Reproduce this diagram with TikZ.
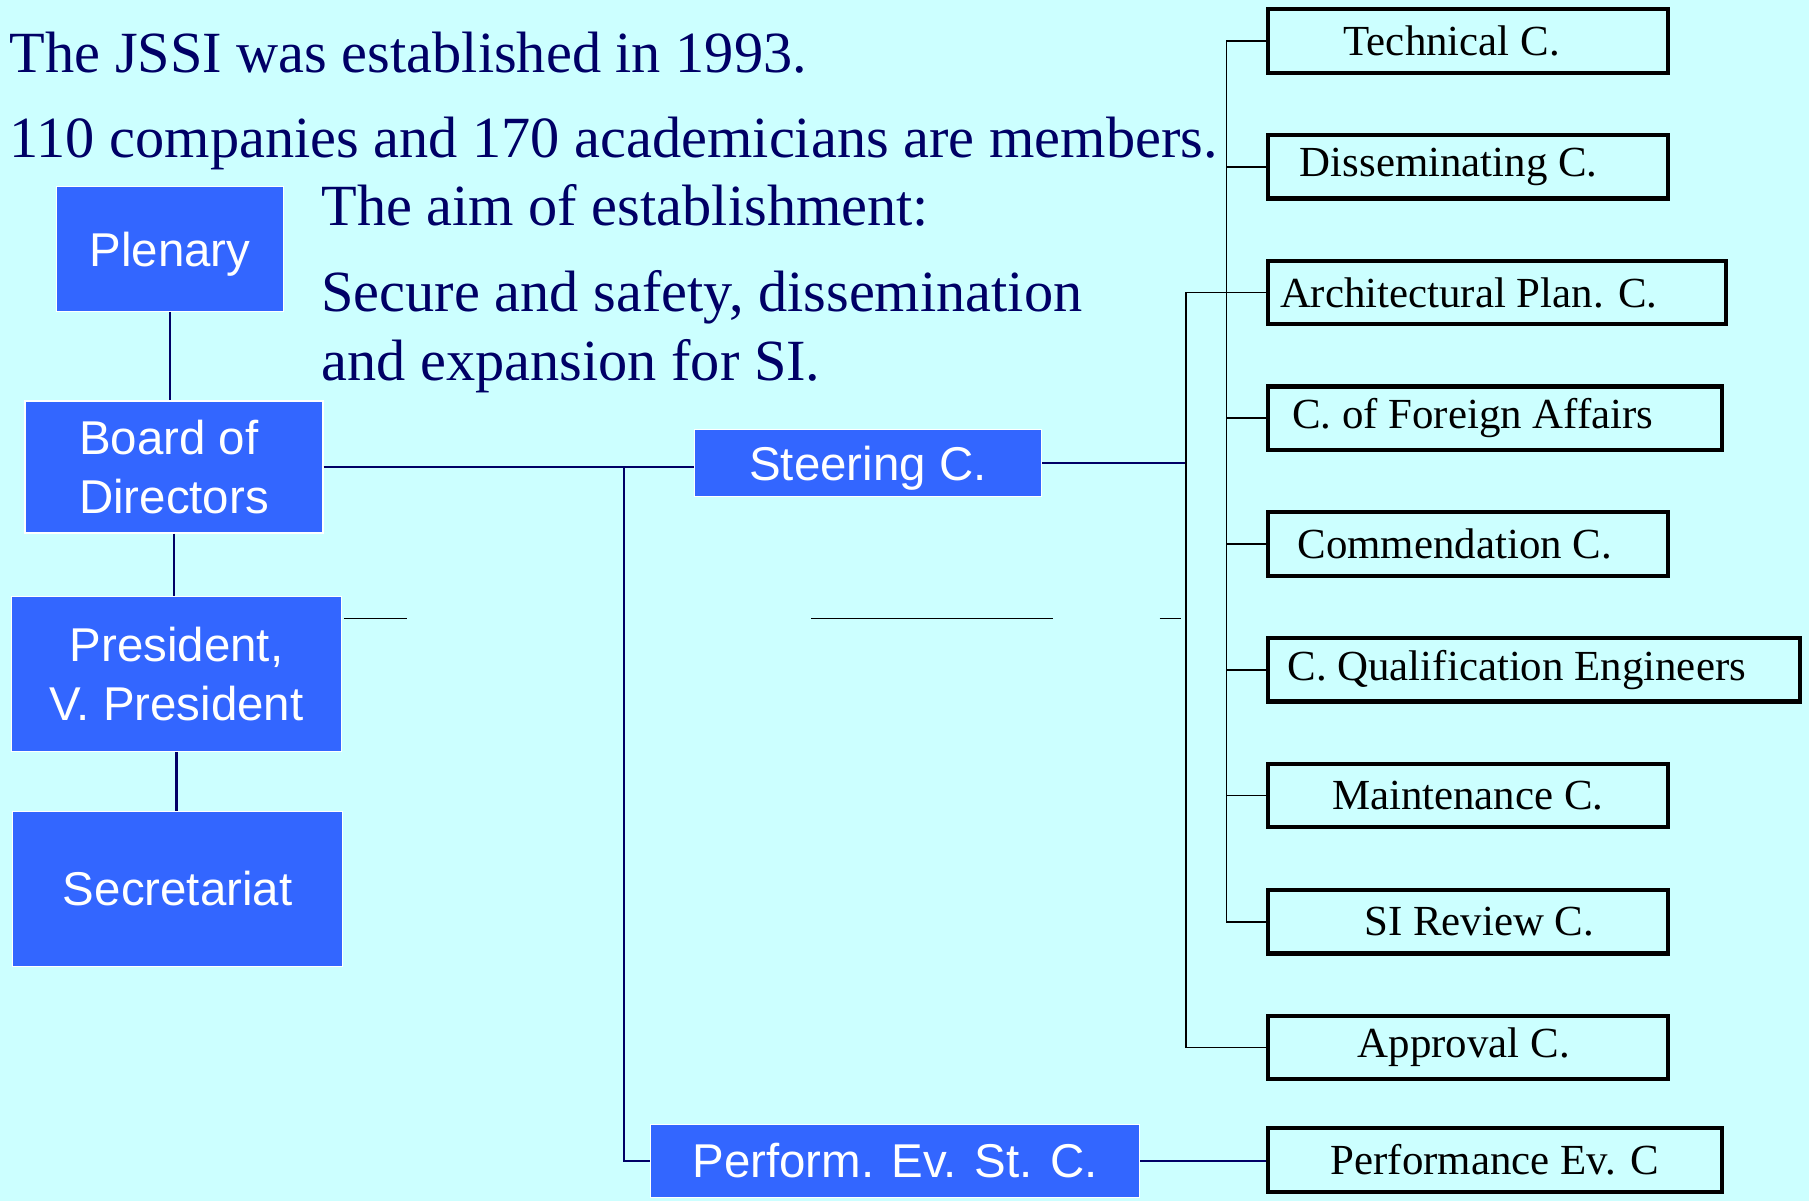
\documentclass[tikz,border=0pt]{standalone}
\usepackage{fontspec}
\setmainfont{Liberation Serif}
\setsansfont{Liberation Sans}
\definecolor{bgcyan}{HTML}{CCFFFF}
\definecolor{boxblue}{HTML}{3366FF}
\definecolor{navy}{HTML}{000066}

\begin{document}
\begin{tikzpicture}[x=0.1mm, y=-0.1mm,
    blue node/.style={fill=boxblue, draw=white, line width=0.4pt, text=white, inner sep=0pt,
      font=\sffamily\fontsize{13.5}{16.8}\selectfont},
    comm node/.style={draw=black, line width=1.2pt, anchor=west, minimum height=6.35mm, inner sep=0pt,
      font=\fontsize{12.2}{14}\selectfont},
    nudge/.style={execute at begin node={\hspace*{#1}}},
    text node/.style={anchor=base west, text=navy, inner sep=0pt, font=\fontsize{16.6}{20}\selectfont},
    navy line/.style={draw=navy, line width=0.7pt},
    thin line/.style={draw=black, line width=0.5pt},
    ]
  \def\CL{1265.6}

  \fill[bgcyan] (0,0) rectangle (1809,1201);
  \useasboundingbox (0,0) rectangle (1809,1201);

  \node[text node] (l1) at (9,72.7) {The JSSI was established in 1993.};
  \node[text node] (l2) at (9,158) {110 companies and 170 academicians are members.};
  \node[text node] (l3) at (320.7,226) {The aim of establishment:};
  \node[text node] (l4) at (320.7,311.5) {Secure and safety, dissemination};
  \node[text node] (l5) at (320.7,380.7) {and expansion for SI.};

  % left column and steering boxes
  \node[blue node, minimum width=22.7mm, minimum height=12.5mm, text depth=0pt] (plen) at (170,249) {Plenary};
  \node[blue node, minimum width=29.8mm, minimum height=13.2mm, align=left] (board) at (174,467) {Board of\\Directors};
  \node[blue node, minimum width=33mm, minimum height=15.5mm, align=center] (pres) at (176.5,674) {President,\\V. President};
  \node[blue node, minimum width=33mm, minimum height=15.5mm] (secr) at (177.7,889) {Secretariat};
  \node[blue node, minimum width=34.7mm, minimum height=6.7mm, text depth=0pt] (steer) at (868,463) {Steering C.};
  \node[blue node, minimum width=48.9mm, minimum height=7.3mm] (perf) at (895,1161) {Perform. Ev. St. C.};

  % committees
  \node[comm node, minimum width=40mm, nudge=-3.2mm] (c1) at (\CL,41) {Technical C.};
  \node[comm node, minimum width=40mm, nudge=-3.8mm] (c2) at (\CL,166.7) {Disseminating C.};
  \node[comm node, minimum width=45.8mm, nudge=-5.6mm] (c3) at (\CL,292.5) {Architectural Plan. C.};
  \node[comm node, minimum width=45.4mm, nudge=-4.4mm] (c4) at (\CL,418.2) {C. of Foreign Affairs};
  \node[comm node, minimum width=40mm, nudge=-2.6mm] (c5) at (\CL,544) {Commendation C.};
  \node[comm node, minimum width=53.2mm, nudge=-3.4mm] (c6) at (\CL,669.7) {C. Qualification Engineers};
  \node[comm node, minimum width=40mm] (c7) at (\CL,795.5) {Maintenance C.};
  \node[comm node, minimum width=40mm, nudge=2.3mm] (c8) at (\CL,921.8) {SI Review C.};
  \node[comm node, minimum width=40mm, nudge=-0.8mm] (c9) at (\CL,1047.6) {Approval C.};
  \node[comm node, minimum width=45.4mm] (c10) at (\CL,1160) {Performance Ev. C};

  \coordinate (split) at (624.2,0);
  \coordinate (trunk) at (1186,0);
  \coordinate (spine) at (1226.4,0);

  \draw[navy line] (plen.south) -- (plen.south |- board.north);
  \draw[navy line] (board.south) -- (board.south |- pres.north);
  \draw[navy line] (pres.south) -- (pres.south |- secr.north);
  \draw[navy line] (board.east) -- (board.east -| steer.west);
  \draw[navy line] (board.east -| split) |- (perf.west);
  \draw[navy line] (steer.east) -- (steer.east -| trunk);
  \draw[navy line] (perf.east) -- (perf.east -| c10.west);

  \draw[thin line] (c3.west) -- (c3.west -| trunk) -- (c9.west -| trunk) -- (c9.west);
  \draw[thin line] (c1.west) -- (c1.west -| spine) -- (c8.west -| spine) -- (c8.west);
  \draw[thin line] (c2.west) -- (c2.west -| spine);
  \draw[thin line] (c4.west) -- (c4.west -| spine);
  \draw[thin line] (c5.west) -- (c5.west -| spine);
  \draw[thin line] (c6.west) -- (c6.west -| spine);
  \draw[thin line] (c7.west) -- (c7.west -| spine);

  \draw[thin line] (343.8,618.4) -- (407.3,618.4);
  \draw[thin line] (811,618.4) -- (1053.3,618.4);
  \draw[thin line] (1159.5,618.4) -- (1181.4,618.4);
\end{tikzpicture}
\end{document}
